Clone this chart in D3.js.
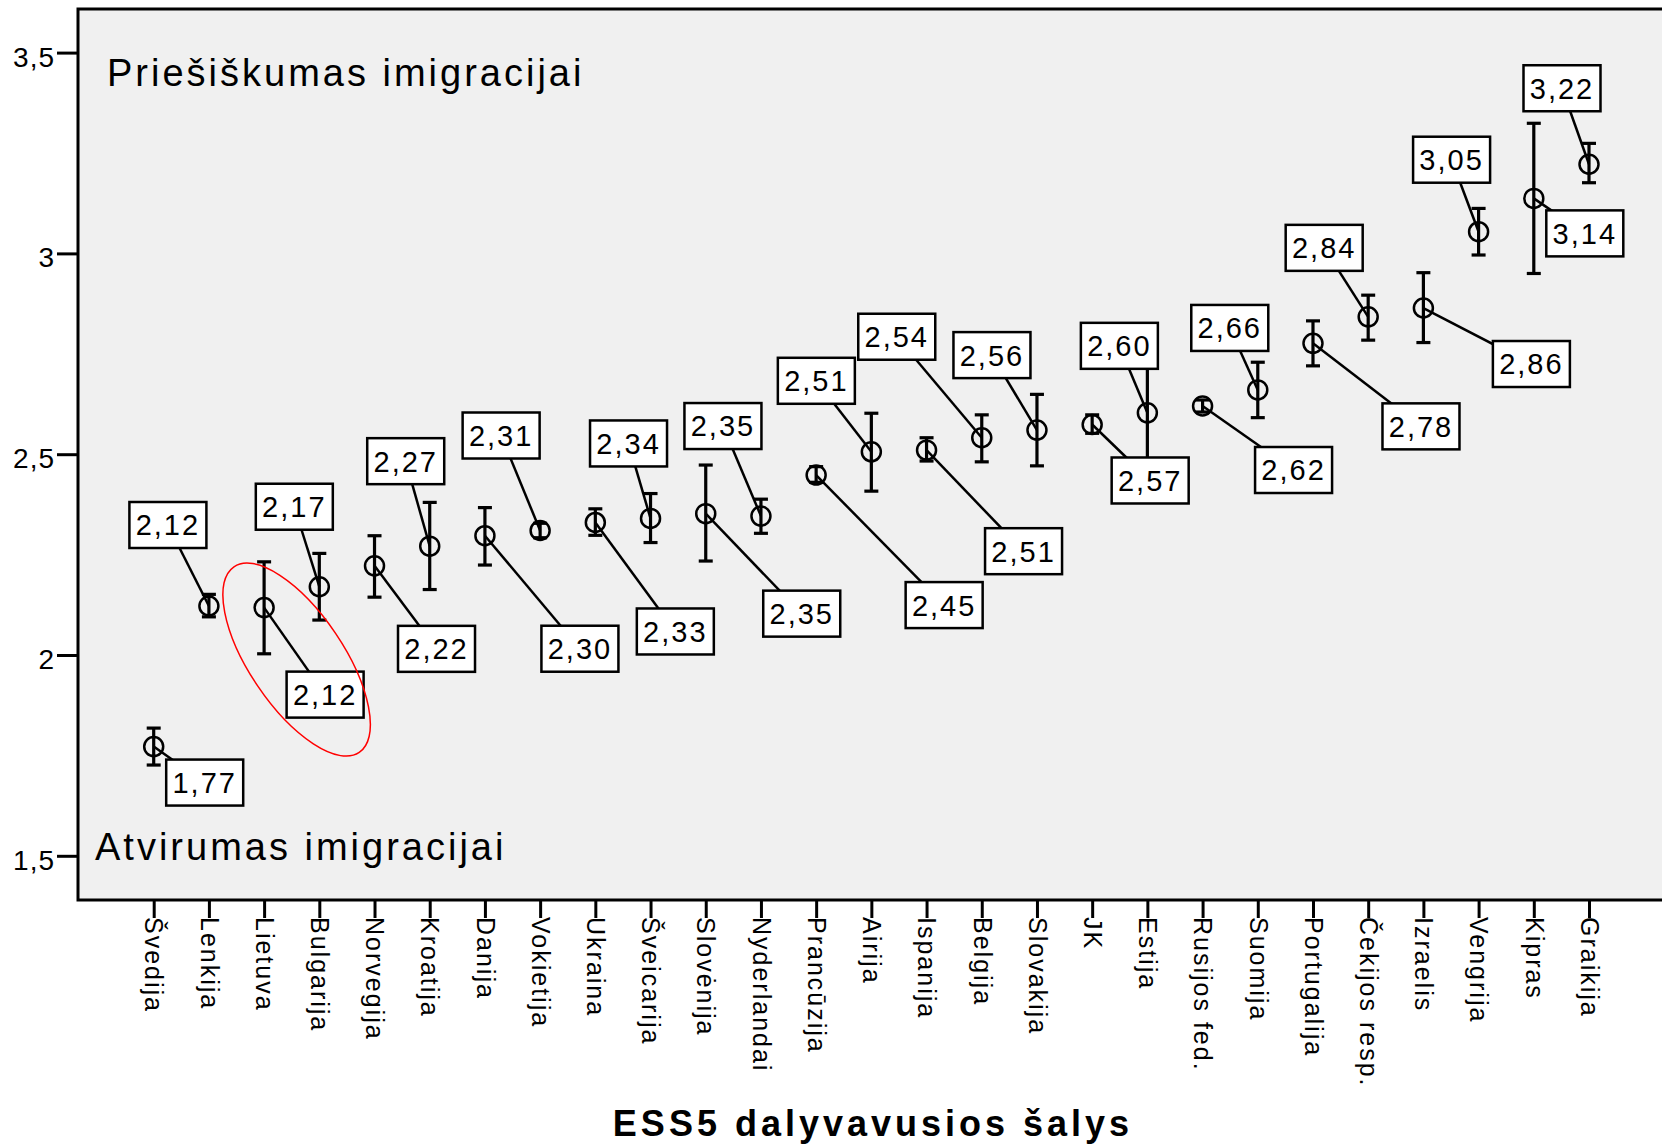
<!DOCTYPE html>
<meta charset="utf-8">
<style>

body {
  margin: 0;
  background: #fff;
}

text {
  font-family: "Liberation Sans", Arial, sans-serif;
  fill: #000;
}

.axis .domain {
  display: none;
}

.axis line {
  stroke: #000;
  stroke-width: 3px;
}

.y.axis text {
  font-size: 28px;
  letter-spacing: 1px;
}

.x.axis text {
  font-size: 25px;
  letter-spacing: 2px;
}

.note {
  font-size: 38px;
  letter-spacing: 3px;
}

.title {
  font-size: 36px;
  font-weight: bold;
  letter-spacing: 4px;
}

.bars line {
  stroke: #000;
  stroke-width: 3.2px;
}

.leaders line {
  stroke: #000;
  stroke-width: 2.5px;
}

.points circle {
  fill: none;
  stroke: #000;
  stroke-width: 2.5px;
}

.labels rect {
  fill: #fff;
  stroke: #000;
  stroke-width: 2.5px;
}

.labels text {
  font-size: 29px;
  letter-spacing: 2px;
}

</style>
<svg width="1662" height="1146"></svg>
<script src="https://d3js.org/d3.v7.min.js"></script>
<script>

var countries = ["Švedija", "Lenkija", "Lietuva", "Bulgarija", "Norvegija", "Kroatija",
  "Danija", "Vokietija", "Ukraina", "Šveicarija", "Slovėnija", "Nyderlandai",
  "Prancūzija", "Airija", "Ispanija", "Belgija", "Slovakija", "JK", "Estija",
  "Rusijos fed.", "Suomija", "Portugalija", "Čekijos resp.", "Izraelis",
  "Vengrija", "Kipras", "Graikija"];

var means = [1.772, 2.122, 2.118, 2.170, 2.222, 2.271, 2.297, 2.310, 2.330, 2.340,
  2.352, 2.346, 2.448, 2.506, 2.510, 2.541, 2.560, 2.574, 2.603, 2.620, 2.660,
  2.776, 2.842, 2.864, 3.054, 3.137, 3.222];

var ciLow = [1.726, 2.095, 2.003, 2.087, 2.144, 2.163, 2.224, 2.292, 2.298, 2.280,
  2.234, 2.303, 2.430, 2.408, 2.483, 2.481, 2.471, 2.552, 2.440, 2.605, 2.591,
  2.720, 2.784, 2.778, 2.996, 2.950, 3.176];

var ciHigh = [1.818, 2.151, 2.232, 2.253, 2.297, 2.380, 2.367, 2.328, 2.364, 2.402,
  2.473, 2.388, 2.469, 2.602, 2.541, 2.598, 2.649, 2.598, 2.760, 2.635, 2.729,
  2.832, 2.896, 2.952, 3.112, 3.324, 3.274];

var yTicks = [1.5, 2, 2.5, 3, 3.5];

// where each value box sits, offset of its centre from the point (px)
var labelDx = [51, -41, 61, -25, 62, -24, 95, -39, 80, -22, 96, -38, 128, -55, 97,
  -85, -45, 58, -28, 91, -28, 108, -44, 108, -27, 51, -27];
var labelDy = [36, -81, 87, -80, 83, -85, 113, -95, 109, -75, 100, -90, 130, -71, 101,
  -101, -75, 56, -67, 64, -62, 83, -69, 56, -72, 35, -76];

var svg = d3.select("svg");

var frame = {left: 78, top: 9, right: 1668, bottom: 900};
var boxW = 77, boxH = 46;

var x = d3.scalePoint().domain(countries).range([153.7, 1589]);
var y = d3.scaleLinear().domain([1.5, 3.5]).range([855.8, 52.6]);

function comma(v) { return String(v).replace(".", ","); }
function fmt2(v) { return d3.format(".2f")(v).replace(".", ","); }

var rows = countries.map(function(c, i) {
  return {name: c, mean: means[i], lo: ciLow[i], hi: ciHigh[i],
    dx: labelDx[i], dy: labelDy[i]};
});

// plot background and frame
svg.append("rect")
  .attr("x", frame.left)
  .attr("y", frame.top)
  .attr("width", frame.right - frame.left)
  .attr("height", frame.bottom - frame.top)
  .attr("fill", "#f0f0f0")
  .attr("stroke", "#000")
  .attr("stroke-width", 3);

// axes
svg.append("g")
  .attr("class", "y axis")
  .attr("transform", "translate(" + frame.left + ",0)")
  .call(d3.axisLeft(y).tickValues(yTicks).tickSize(21).tickPadding(2).tickFormat(comma))
  .selectAll("text")
  .attr("dy", "0.48em");

var xAxis = svg.append("g")
  .attr("class", "x axis")
  .attr("transform", "translate(0," + frame.bottom + ")")
  .call(d3.axisBottom(x).tickSize(18));

xAxis.selectAll("text")
  .attr("transform", "rotate(90)")
  .attr("text-anchor", "start")
  .attr("x", 17)
  .attr("y", 0)
  .attr("dy", "0.35em");

// corner notes and axis title
svg.append("text")
  .attr("class", "note")
  .attr("x", 107)
  .attr("y", 86)
  .text("Priešiškumas imigracijai");

svg.append("text")
  .attr("class", "note")
  .attr("x", 95)
  .attr("y", 860)
  .text("Atvirumas imigracijai");

svg.append("text")
  .attr("class", "title")
  .attr("x", 873)
  .attr("y", 1136)
  .attr("text-anchor", "middle")
  .text("ESS5 dalyvavusios šalys");

// error bars
var bar = svg.append("g")
  .attr("class", "bars")
  .selectAll("g")
  .data(rows)
  .enter().append("g");

bar.append("line")
  .attr("x1", function(d) { return x(d.name); })
  .attr("x2", function(d) { return x(d.name); })
  .attr("y1", function(d) { return y(d.hi); })
  .attr("y2", function(d) { return y(d.lo); });

bar.append("line")
  .attr("x1", function(d) { return x(d.name) - 7; })
  .attr("x2", function(d) { return x(d.name) + 7; })
  .attr("y1", function(d) { return y(d.hi); })
  .attr("y2", function(d) { return y(d.hi); });

bar.append("line")
  .attr("x1", function(d) { return x(d.name) - 7; })
  .attr("x2", function(d) { return x(d.name) + 7; })
  .attr("y1", function(d) { return y(d.lo); })
  .attr("y2", function(d) { return y(d.lo); });

// leader lines from point to its box
svg.append("g")
  .attr("class", "leaders")
  .selectAll("line")
  .data(rows)
  .enter().append("line")
  .attr("x1", function(d) { return x(d.name); })
  .attr("y1", function(d) { return y(d.mean); })
  .attr("x2", function(d) { return x(d.name) + d.dx; })
  .attr("y2", function(d) { return y(d.mean) + d.dy; });

// mean markers
svg.append("g")
  .attr("class", "points")
  .selectAll("circle")
  .data(rows)
  .enter().append("circle")
  .attr("cx", function(d) { return x(d.name); })
  .attr("cy", function(d) { return y(d.mean); })
  .attr("r", 9.5);

// value boxes
var label = svg.append("g")
  .attr("class", "labels")
  .selectAll("g")
  .data(rows)
  .enter().append("g")
  .attr("transform", function(d) {
    return "translate(" + (x(d.name) + d.dx) + "," + (y(d.mean) + d.dy) + ")";
  });

label.append("rect")
  .attr("x", -boxW / 2)
  .attr("y", -boxH / 2)
  .attr("width", boxW)
  .attr("height", boxH);

label.append("text")
  .attr("text-anchor", "middle")
  .attr("dy", "0.36em")
  .text(function(d) { return fmt2(d.mean); });

// red hand-drawn ring around Lietuva
var lt = rows[2];
svg.append("ellipse")
  .attr("transform", "translate(" + (x(lt.name) + 32.5) + "," + (y(lt.mean) + 52) + ") rotate(56)")
  .attr("rx", 112)
  .attr("ry", 47)
  .attr("fill", "none")
  .attr("stroke", "#f00")
  .attr("stroke-width", 1.5);

</script>
